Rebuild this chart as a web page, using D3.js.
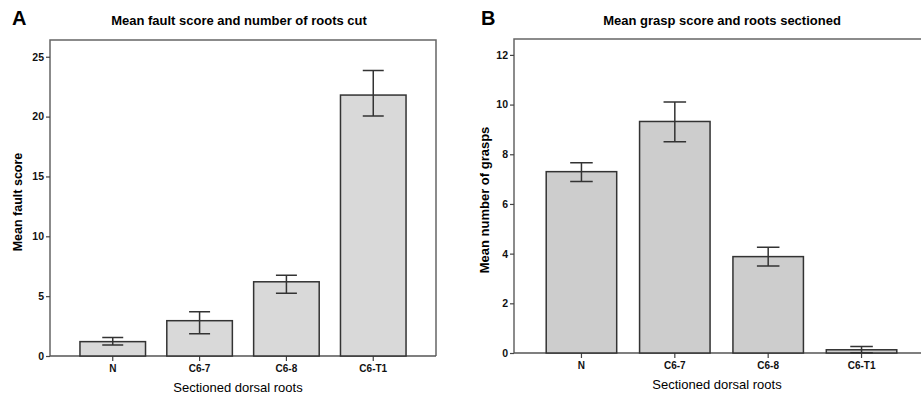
<!DOCTYPE html>
<html>
<head>
<meta charset="utf-8">
<script src="https://cdnjs.cloudflare.com/ajax/libs/d3/7.8.5/d3.min.js"></script>
<style>
	body { margin:0; background:#fff; }
	svg { display:block; font-family:'Liberation Sans', Arial, sans-serif; }
	.tick text { font-weight:bold; fill:#111; }
</style>
</head>
<body>
<svg id="chart" width="921" height="399"></svg>
<script>

var roots = ['N', 'C6-7', 'C6-8', 'C6-T1'];

// panel A: mean fault score, error bar ends
var faultMean = [1.2, 2.95, 6.2, 21.8];
var faultLow = [0.92, 1.85, 5.25, 20.05];
var faultHigh = [1.55, 3.7, 6.75, 23.85];
var faultTicks = [0, 5, 10, 15, 20, 25];

// panel B: mean number of grasps, error bar ends
var graspMean = [7.3, 9.32, 3.88, 0.13];
var graspLow = [6.9, 8.5, 3.5, 0.01];
var graspHigh = [7.66, 10.1, 4.26, 0.26];
var graspTicks = [0, 2, 4, 6, 8, 10, 12];

var svg = d3.select('#chart');

var panels = [
	{
		letter:'A', letterX:12, letterY:25,
		title:'Mean fault score and number of roots cut', titleX:239,
		yLabel:'Mean fault score', yLabelX:22, yLabelSize:'12.5px',
		left:50, right:436, top:40, bottom:356, yMax:26.4,
		mean:faultMean, low:faultLow, high:faultHigh, ticks:faultTicks,
		fill:'#d9d9d9', rightBorder:true, xLabelX:238
	},
	{
		letter:'B', letterX:481, letterY:25,
		title:'Mean grasp score and roots sectioned', titleX:722,
		yLabel:'Mean number of grasps', yLabelX:489, yLabelSize:'13px',
		left:514, right:929, top:39, bottom:353, yMax:12.64,
		mean:graspMean, low:graspLow, high:graspHigh, ticks:graspTicks,
		fill:'#cdcdcd', rightBorder:false, xLabelX:717
	}
]

panels.forEach(drawPanel);

function drawPanel(p){

	var x = d3.scaleBand()
		.domain(roots)
		.range([p.left, p.right])
		.paddingInner(0.245)
		.paddingOuter(0.345);

	var y = d3.scaleLinear()
		.domain([0, p.yMax])
		.range([p.bottom, p.top]);

	var g = svg.append('g');

	// letter and title
	g.append('text')
		.attr('x', p.letterX)
		.attr('y', p.letterY)
		.style('font-size', '20px')
		.style('font-weight', 'bold')
		.text(p.letter);

	g.append('text')
		.attr('x', p.titleX)
		.attr('y', 25)
		.attr('text-anchor', 'middle')
		.style('font-size', '13px')
		.style('font-weight', 'bold')
		.text(p.title);

	// frame
	g.append('path')
		.attr('d', p.rightBorder
			? `M${p.left},${p.bottom}V${p.top}H${p.right}V${p.bottom}`
			: `M${p.left},${p.bottom}V${p.top}H${p.right}`)
		.attr('fill', 'none')
		.attr('stroke', '#666')
		.attr('stroke-width', 1.5);

	// axes
	var yAxis = g.append('g')
		.attr('transform', `translate(${p.left},0)`)
		.call(d3.axisLeft(y).tickValues(p.ticks).tickSize(4).tickPadding(2));

	yAxis.select('.domain').remove();
	yAxis.selectAll('.tick line').attr('stroke', '#444').attr('stroke-width', 1.2);
	yAxis.selectAll('.tick text').style('font-size', '10.5px');

	var xAxis = g.append('g')
		.attr('transform', `translate(0,${p.bottom})`)
		.call(d3.axisBottom(x).tickSize(5).tickPadding(4));

	xAxis.select('.domain')
		.attr('d', `M${p.left},0H${p.right}`)
		.attr('stroke', '#555')
		.attr('stroke-width', 1.5);
	xAxis.selectAll('.tick line').attr('stroke', '#444').attr('stroke-width', 1.2);
	xAxis.selectAll('.tick text').style('font-size', '10px');

	// axis titles
	g.append('text')
		.attr('transform', `translate(${p.yLabelX},${(p.top + p.bottom)/2 + 4}) rotate(-90)`)
		.attr('text-anchor', 'middle')
		.style('font-size', p.yLabelSize)
		.style('font-weight', 'bold')
		.text(p.yLabel);

	g.append('text')
		.attr('x', p.xLabelX)
		.attr('y', p.bottom + 36)
		.attr('text-anchor', 'middle')
		.style('font-size', '13px')
		.text('Sectioned dorsal roots');

	// bars
	g.selectAll('.bar')
		.data(roots)
		.enter()
		.append('rect')
		.attr('class', 'bar')
		.attr('x', d=>x(d))
		.attr('width', x.bandwidth())
		.attr('y', (d,i)=>y(p.mean[i]))
		.attr('height', (d,i)=>y(0) - y(p.mean[i]))
		.attr('fill', p.fill)
		.attr('stroke', '#333')
		.attr('stroke-width', 1.5);

	// error bars
	var capHalf = x.bandwidth() * 0.16;

	g.selectAll('.err')
		.data(roots)
		.enter()
		.append('path')
		.attr('class', 'err')
		.attr('d', (d,i)=>{
			var cx = x(d) + x.bandwidth()/2;
			var lo = y(p.low[i]), hi = y(p.high[i]);
			return `M${cx - capHalf},${hi}H${cx + capHalf}M${cx},${hi}V${lo}M${cx - capHalf},${lo}H${cx + capHalf}`;
		})
		.attr('fill', 'none')
		.attr('stroke', '#333')
		.attr('stroke-width', 1.5);
}

</script>
</body>
</html>
